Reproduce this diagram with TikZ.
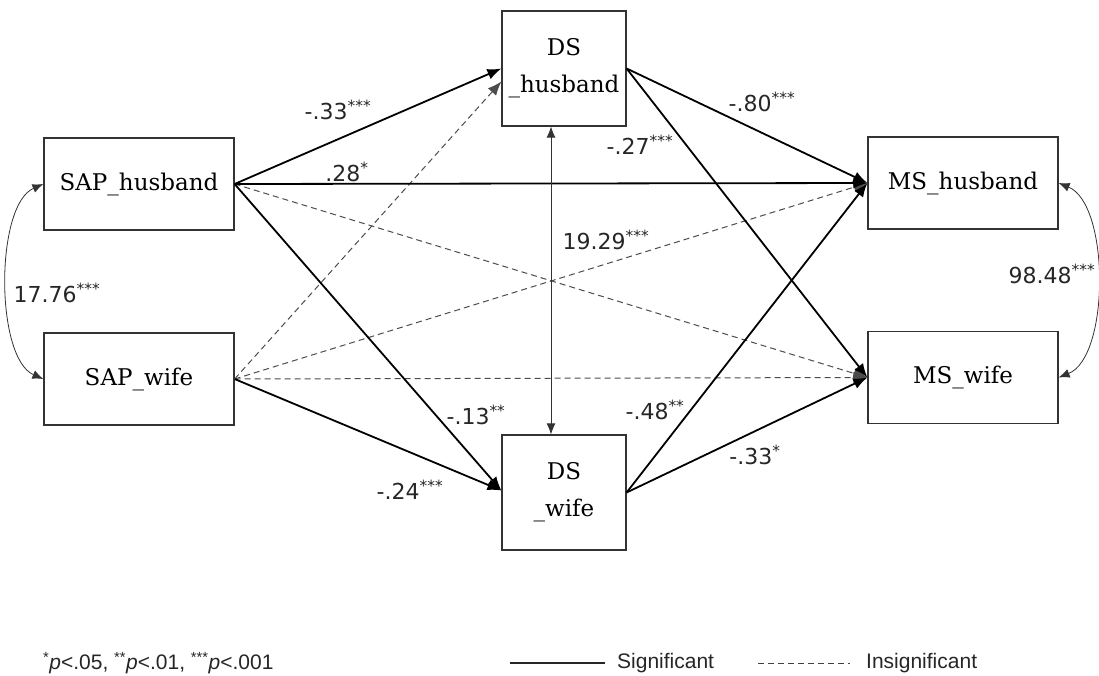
\documentclass[tikz,border=0pt]{standalone}
\usepackage{fontspec}
\setmainfont{DejaVu Serif}
\newfontfamily\lblfont{DejaVu Sans}
\newfontfamily\legfont{Liberation Sans}
\usetikzlibrary{arrows.meta}
\tikzset{
  box/.style={draw=black!80, line width=1.2pt, fill=white, minimum width=190pt, minimum height=92pt,
    font=\fontsize{23}{27}\selectfont, inner sep=0pt, align=center},
  dsbox/.style={box, minimum width=124pt, minimum height=115pt},
  sig/.style={line width=1.8pt, -{Latex[length=14pt,width=11pt]}},
  ins/.style={draw=black!70, line width=1pt, dash pattern=on 6pt off 4pt, -{Latex[length=14pt,width=11pt]}},
  cov/.style={draw=black!80, line width=0.8pt, {Latex[length=11pt,width=9pt]}-{Latex[length=11pt,width=9pt]}},
  lbl/.style={font=\lblfont\fontsize{22}{26}\selectfont, text=black!85, inner sep=0pt},
  leg/.style={font=\legfont\fontsize{21}{24}\selectfont, text=black!85, inner sep=0pt, anchor=west},
}
\newcommand{\st}[1]{\textsuperscript{#1}}
\begin{document}
\begin{tikzpicture}[x=1pt,y=-1pt]
\useasboundingbox (0,0) rectangle (1099,675);
% boxes
\node[box] (sh) at (139,184) {SAP\_husband};
\node[box] (sw) at (139,379) {SAP\_wife};
\node[dsbox] (dh) at (564,68.5) {DS\\[10pt]\_husband};
\node[dsbox] (dw) at (564,492.5) {DS\\[10pt]\_wife};
\node[box] (mh) at (963,183) {MS\_husband};
\node[box] (mw) at (963,377.5) {MS\_wife};
% insignificant paths
\draw[ins] (sh.east) -- (mw.west);
\draw[ins] (sw.east) -- ([yshift=-13pt]dh.west);
\draw[ins] (sw.east) -- (mh.west);
\draw[ins] (sw.east) -- (mw.west);
% significant paths
\draw[sig] (sh.east) -- (dh.west);
\draw[sig] (sh.east) -- (mh.west);
\draw[sig] (sh.east) -- ([yshift=2pt]dw.west);
\draw[sig] (sw.east) -- ([yshift=2pt]dw.west);
\draw[sig] (dh.east) -- (mh.west);
\draw[sig] (dh.east) -- (mw.west);
\draw[sig] (dw.east) -- (mh.west);
\draw[sig] (dw.east) -- (mw.west);
% covariances
\draw[cov] ([xshift=-13pt]dh.south) -- ([xshift=-13pt]dw.north);
\draw[cov] (sh.west) .. controls (-5,205) and (-5,358) .. (sw.west);
\draw[cov] (mh.east) .. controls (1110,204) and (1110,357) .. (mw.east);
% labels
\node[lbl] (l1) at (338,110) {-.33\st{***}};
\node[lbl] (l2) at (347,172) {.28\st{*}};
\node[lbl] (l3) at (762,102) {-.80\st{***}};
\node[lbl] (l4) at (640,145) {-.27\st{***}};
\node[lbl] (l5) at (606,240) {19.29\st{***}};
\node[lbl] (l6) at (57,293) {17.76\st{***}};
\node[lbl] (l7) at (1052,274) {98.48\st{***}};
\node[lbl] (l8) at (476,415) {-.13\st{**}};
\node[lbl] (l9) at (655,410) {-.48\st{**}};
\node[lbl] (l10) at (410,490) {-.24\st{***}};
\node[lbl] (l11) at (755,455) {-.33\st{*}};
% legend
\node[leg] (n1) at (43,663) {\st{*}\textit{p}<.05, \st{**}\textit{p}<.01, \st{***}\textit{p}<.001};
\coordinate (a1) at (510,663);
\coordinate (a2) at (605,663);
\draw[line width=2.6pt, black!85] (a1) -- (a2);
\node[leg] (n2) at (617,663) {Significant};
\coordinate (b1) at (758,663);
\coordinate (b2) at (850,663);
\draw[line width=1pt, black!75, dash pattern=on 6pt off 4pt] (b1) -- (b2);
\node[leg] (n3) at (866,663) {Insignificant};
\end{tikzpicture}
\end{document}
